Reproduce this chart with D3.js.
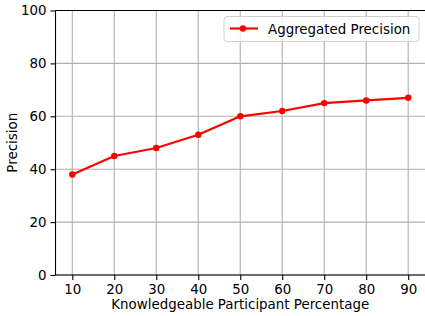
<!DOCTYPE html>
<html>
<head>
<meta charset="utf-8">
<script src="https://cdn.jsdelivr.net/npm/d3@7"></script>
<style>
  body { margin: 0; background: #fff; }
  svg { display: block; font-family: "DejaVu Sans", sans-serif; }
</style>
</head>
<body>
<script>
// chart values
let percentages = [10, 20, 30, 40, 50, 60, 70, 80, 90];
let precision = [38, 45, 48, 53, 60, 62, 65, 66, 67];
let yTicks = [0, 20, 40, 60, 80, 100];
let seriesName = "Aggregated Precision";

// canvas size and plot box
let W = 425, H = 316;
let margin = {top: 10.5, right: 0, bottom: 41, left: 55.5};
let width = W - margin.left - margin.right,
	height = H - margin.top - margin.bottom;
let fontSize = "13.4px";

let svg = d3.select("body").append("svg")
	.attr("width", W)
	.attr("height", H);

let g = svg.append("g")
	.attr("transform", "translate(" + margin.left + "," + margin.top + ")");

// matplotlib-like 5% margin on x
let xScale = d3.scaleLinear().domain([6, 94]).range([0, width]);
let yScale = d3.scaleLinear().domain([0, 100]).range([height, 0]);

// grid
g.append("g").selectAll("line").data(percentages).join("line")
	.attr("x1", d => xScale(d)).attr("x2", d => xScale(d))
	.attr("y1", 0).attr("y2", height)
	.attr("stroke", "#b0b0b0").attr("stroke-width", 1.1);
g.append("g").selectAll("line").data(yTicks).join("line")
	.attr("x1", 0).attr("x2", width)
	.attr("y1", d => yScale(d)).attr("y2", d => yScale(d))
	.attr("stroke", "#b0b0b0").attr("stroke-width", 1.1);

// axes
let xAxis = d3.axisBottom(xScale).tickValues(percentages).tickSize(5).tickPadding(4);
let yAxis = d3.axisLeft(yScale).tickValues(yTicks).tickSize(5).tickPadding(4);

let xAxisEl = g.append("g").attr("transform", "translate(0," + height + ")").call(xAxis);
let yAxisEl = g.append("g").call(yAxis);

[xAxisEl, yAxisEl].forEach(function(a) {
	a.select(".domain").remove();
	a.selectAll(".tick line").attr("stroke", "#000").attr("stroke-width", 1.1);
	a.selectAll(".tick text").attr("fill", "#000").style("font-size", fontSize)
		.style("font-family", "'DejaVu Sans', sans-serif");
});

// spines (left, bottom, top; right falls on the canvas edge)
g.append("line").attr("x1", 0).attr("x2", 0).attr("y1", 0).attr("y2", height)
	.attr("stroke", "#000").attr("stroke-width", 1.1);
g.append("line").attr("x1", 0).attr("x2", width).attr("y1", height).attr("y2", height)
	.attr("stroke", "#000").attr("stroke-width", 1.1);
g.append("line").attr("x1", 0).attr("x2", width).attr("y1", 0).attr("y2", 0)
	.attr("stroke", "#000").attr("stroke-width", 1.1);

// the line
let line = d3.line()
	.x((d, i) => xScale(percentages[i]))
	.y(d => yScale(d));

g.append("path").datum(precision)
	.attr("d", line)
	.attr("fill", "none")
	.attr("stroke", "#ff0000")
	.attr("stroke-width", 2.2)
	.attr("stroke-linejoin", "round");

g.append("g").selectAll("circle").data(precision).join("circle")
	.attr("cx", (d, i) => xScale(percentages[i]))
	.attr("cy", d => yScale(d))
	.attr("r", 3.2)
	.attr("fill", "#ff0000");

// axis labels
svg.append("text")
	.attr("x", margin.left + width / 2)
	.attr("y", 309)
	.attr("text-anchor", "middle")
	.style("font-size", fontSize)
	.text("Knowledgeable Participant Percentage");

svg.append("text")
	.attr("transform", "translate(17," + (margin.top + height / 2) + ") rotate(-90)")
	.attr("text-anchor", "middle")
	.style("font-size", fontSize)
	.text("Precision");

// legend
let legend = svg.append("g").attr("transform", "translate(224,16.5)");
legend.append("rect")
	.attr("width", 195).attr("height", 25).attr("rx", 3)
	.attr("fill", "#fff").attr("fill-opacity", 0.8)
	.attr("stroke", "#d0d0d0").attr("stroke-width", 1);
legend.append("line")
	.attr("x1", 6).attr("x2", 34).attr("y1", 12).attr("y2", 12)
	.attr("stroke", "#ff0000").attr("stroke-width", 2.2);
legend.append("circle").attr("cx", 19).attr("cy", 12).attr("r", 3.2).attr("fill", "#ff0000");
legend.append("text")
	.attr("x", 44).attr("y", 17)
	.style("font-size", fontSize)
	.text(seriesName);
</script>
</body>
</html>
